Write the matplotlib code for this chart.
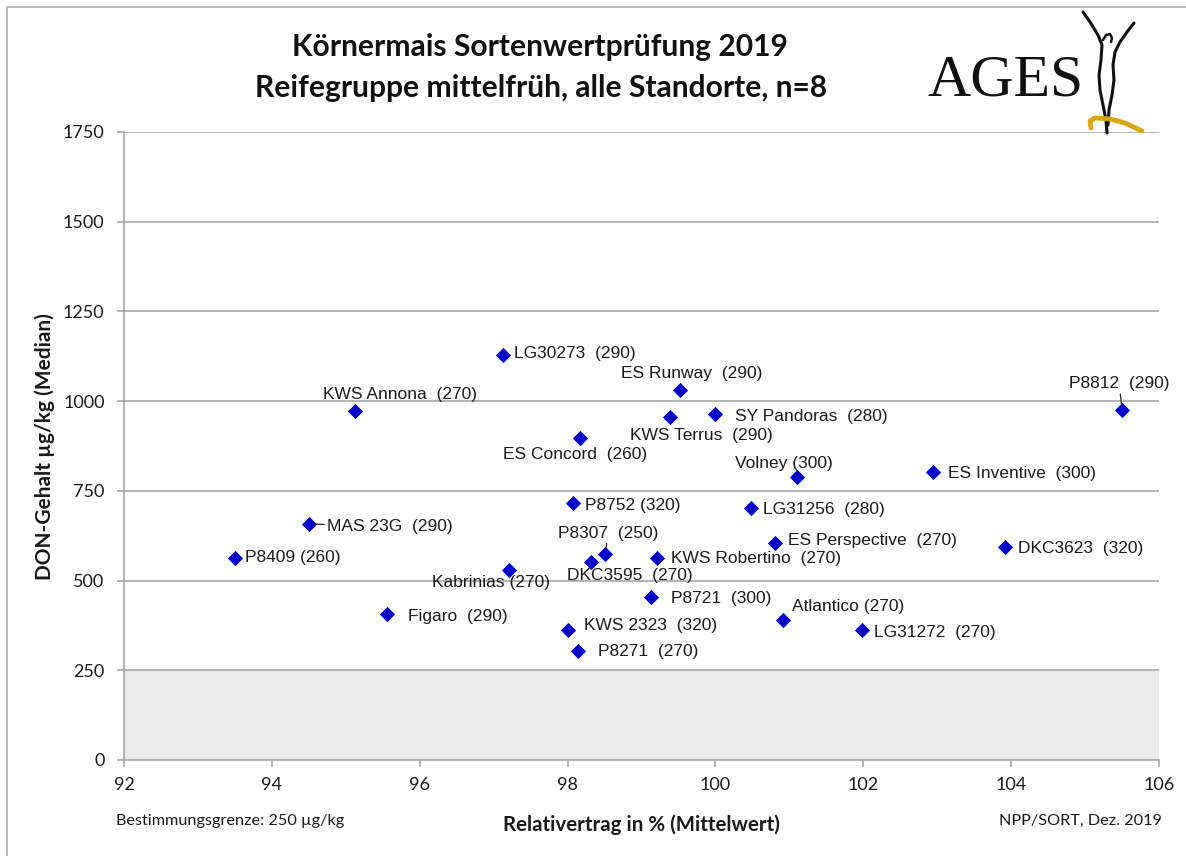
import matplotlib
matplotlib.use('Agg')
import matplotlib.pyplot as plt
from matplotlib.lines import Line2D

# Sorten, Reifezahl, Relativertrag (%), DON-Gehalt (Median)
names = ['P8409', 'MAS 23G', 'KWS Annona', 'Figaro', 'LG30273', 'Kabrinias',
         'KWS 2323', 'P8752', 'ES Concord', 'P8271', 'DKC3595', 'P8307',
         'P8721', 'KWS Robertino', 'KWS Terrus', 'ES Runway', 'SY Pandoras',
         'LG31256', 'Atlantico', 'ES Perspective', 'Volney', 'LG31272',
         'ES Inventive', 'DKC3623', 'P8812']
fao = [260, 290, 270, 290, 290, 270, 320, 320, 260, 270, 270, 250,
       300, 270, 290, 290, 280, 280, 270, 270, 300, 270, 300, 320, 290]
ertrag = [93.50, 94.50, 95.12, 95.56, 97.13, 97.21, 98.01, 98.07, 98.17, 98.14,
          98.32, 98.51, 99.13, 99.21, 99.39, 99.52, 99.99, 100.48, 100.91, 100.81,
          101.10, 101.98, 102.94, 103.92, 105.50]
don = [563, 658, 972, 407, 1128, 529, 362, 716, 897, 304, 552, 574,
       454, 563, 956, 1031, 964, 702, 390, 605, 789, 362, 802, 593, 975]

# label placement: offset in points, alignment, leader line
lab_pos = {
    'P8409': (7, 0, 'left', False),
    'MAS 23G': (13, -2, 'left', True),
    'KWS Annona': (33, 12, 'center', False),
    'Figaro': (15, -2, 'left', False),
    'LG30273': (8, 1.5, 'left', False),
    'Kabrinias': (-13, -8.6, 'center', False),
    'KWS 2323': (11, 3.6, 'left', False),
    'P8752': (8.6, -1.4, 'left', False),
    'ES Concord': (-3.6, -11.5, 'center', False),
    'P8271': (14.4, -0.7, 'left', False),
    'DKC3595': (28, -10, 'center', False),
    'P8307': (2, 15, 'center', True),
    'P8721': (14.4, -0.7, 'left', False),
    'KWS Robertino': (10, -0.7, 'left', False),
    'KWS Terrus': (22, -13.7, 'center', False),
    'ES Runway': (8.6, 12, 'center', False),
    'SY Pandoras': (14.4, -2, 'left', False),
    'LG31256': (8.6, -0.7, 'left', False),
    'Atlantico': (6.5, 10, 'left', False),
    'ES Perspective': (9.4, 1.4, 'left', False),
    'Volney': (-9.4, 9.4, 'center', False),
    'LG31272': (8.6, -1.4, 'left', False),
    'ES Inventive': (10.8, -0.7, 'left', False),
    'DKC3623': (9.4, -0.7, 'left', False),
    'P8812': (-2, 19, 'center', True),
}
single_space = ['P8409', 'Kabrinias', 'P8752', 'Volney', 'Atlantico']

W, H = 1186, 856
fig = plt.figure(figsize=(W / 100, H / 100), dpi=100)
ax = fig.add_axes([124 / W, 1 - 760 / H, (1159 - 124) / W, (760 - 132) / H])

grey = '#a6a6a6'
ax.axhspan(0, 250, color='#ebebeb', zorder=0, lw=0)
for yv in range(250, 1751, 250):
    ax.axhline(yv, color=grey, lw=1.2, zorder=1)

ax.scatter(ertrag, don, marker='D', s=60, color='#0000c8', zorder=3, lw=0)

for n, f, x, y in zip(names, fao, ertrag, don):
    dx, dy, ha, leader = lab_pos[n]
    sep = ' ' if n in single_space else '  '
    ap = dict(arrowstyle='-', color='#222222', lw=0.9, shrinkA=0, shrinkB=4) if leader else None
    ax.annotate(f'{n}{sep}({f})', (x, y), xytext=(dx, dy), textcoords='offset points',
                ha=ha, va='center', fontsize=12.5, family='Liberation Sans',
                color='#1a1a1a', arrowprops=ap, zorder=4)

ax.set_xlim(92, 106)
ax.set_ylim(0, 1750)
ax.set_xticks(range(92, 107, 2))
ax.set_yticks(range(0, 1751, 250))
for s in ['top', 'right']:
    ax.spines[s].set_visible(False)
for s in ['left', 'bottom']:
    ax.spines[s].set_color(grey)
    ax.spines[s].set_linewidth(1.2)
ax.tick_params(axis='both', direction='out', length=5, width=1.2, color=grey,
               labelsize=13, labelcolor='#1a1a1a')
ax.tick_params(axis='y', pad=9)
ax.tick_params(axis='x', pad=7)
for t in ax.get_xticklabels() + ax.get_yticklabels():
    t.set_family('Lato')

fig.text(45 / W, 1 - 447 / H, 'DON-Gehalt µg/kg (Median)', family='Lato', fontweight='bold',
         fontsize=15, rotation=90, ha='center', va='center', color='#1a1a1a')
fig.text(641 / W, 1 - 825 / H, 'Relativertrag in % (Mittelwert)', family='Lato',
         fontweight='bold', fontsize=14.8, ha='center', va='center', color='#1a1a1a')
fig.text(116 / W, 1 - 821 / H, 'Bestimmungsgrenze: 250 µg/kg', family='Lato',
         fontsize=11.7, ha='left', va='center', color='#1a1a1a')
fig.text(1162 / W, 1 - 821 / H, 'NPP/SORT, Dez. 2019', family='Lato',
         fontsize=11.7, ha='right', va='center', color='#1a1a1a')

fig.text(540 / W, 1 - 47 / H, 'Körnermais Sortenwertprüfung 2019', family='Lato',
         fontweight='bold', fontsize=21.6, ha='center', va='center', color='#111111')
fig.text(541 / W, 1 - 88 / H, 'Reifegruppe mittelfrüh, alle Standorte, n=8', family='Lato',
         fontweight='bold', fontsize=21.6, ha='center', va='center', color='#111111')

# logo
fig.text(1006 / W, 1 - 95 / H, 'AGES', family='Liberation Serif', fontsize=43,
         ha='center', va='baseline', color='#111111')


def px_line(pts, **kw):
    xs = [p[0] / W for p in pts]
    ys = [1 - p[1] / H for p in pts]
    fig.add_artist(Line2D(xs, ys, transform=fig.transFigure, solid_capstyle='round', **kw))


px_line([(1083, 12), (1090, 22), (1098, 35), (1102, 45), (1101, 60), (1099, 75),
         (1100, 90), (1103, 105), (1106, 120), (1107, 133)], color='#111111', lw=2.2)
px_line([(1134, 23), (1127, 32), (1120, 42), (1115, 52), (1113, 65), (1114, 80),
         (1112, 95), (1109, 110), (1108, 125)], color='#111111', lw=2.2)
px_line([(1103, 40), (1106, 35), (1110, 34), (1112, 38), (1111, 42)], color='#111111', lw=1.8)
px_line([(1091, 128), (1090, 121), (1095, 118), (1110, 119), (1125, 123), (1142, 131)],
        color='#dba514', lw=3.5)

# outer frame
px_line([(7, H + 5), (7, 7), (W + 5, 7)], color='#b0b0b0', lw=1.2)

fig.savefig('out.png', dpi=100)
